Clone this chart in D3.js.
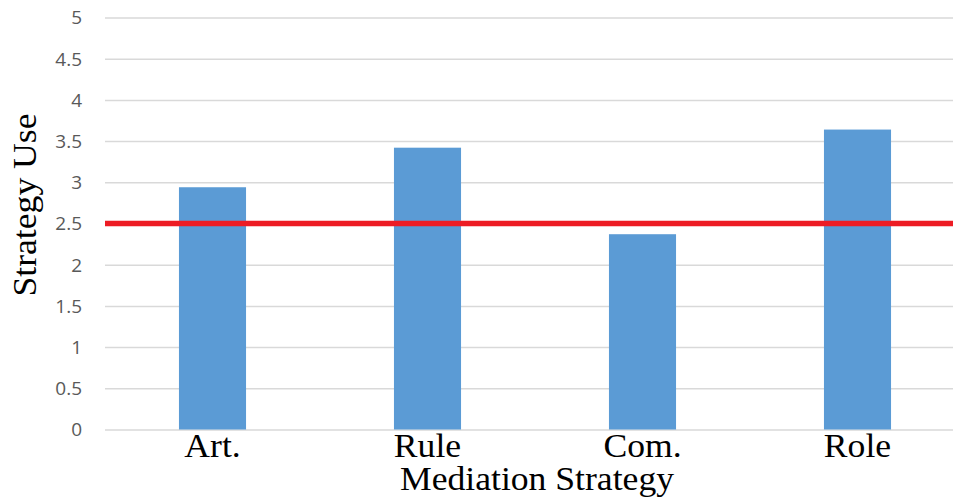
<!DOCTYPE html>
<html>
<head>
<meta charset="utf-8">
<script src="https://cdn.jsdelivr.net/npm/d3@7"></script>
<style>
  html, body { margin: 0; padding: 0; background: #fff; }
  svg { display: block; }
</style>
</head>
<body>
<svg id="chart" width="953" height="500"></svg>
<script>
const categories = ["Art.", "Rule", "Com.", "Role"];
const values = [2.94, 3.42, 2.37, 3.64];
const yTicks = [0, 0.5, 1, 1.5, 2, 2.5, 3, 3.5, 4, 4.5, 5];
const threshold = 2.5;
const xTitle = "Mediation Strategy";
const yTitle = "Strategy Use";

(function () {
const svg = d3.select("#chart");
const pLeft = 105, pRight = 965, pTop = 17.5, pBottom = 429.5;
const sx = 1.08;

const x = d3.scaleBand().domain(categories).range([pLeft, pRight])
  .paddingInner(0.688).paddingOuter(0.344);
const y = d3.scaleLinear().domain([0, 5]).range([pBottom, pTop]);

// gridlines + tick labels
const yAxis = d3.axisLeft(y).tickValues(yTicks)
  .tickSize(-(pRight - pLeft)).tickPadding(23)
  .tickFormat(d => String(d));
const gy = svg.append("g").attr("transform", `translate(${pLeft},0)`).call(yAxis);
gy.select(".domain").remove();
gy.selectAll(".tick line").attr("stroke", "#d9d9d9").attr("stroke-width", 1.5);
gy.selectAll(".tick text")
  .attr("fill", "#595959")
  .attr("font-family", "'Open Sans', 'Liberation Sans', sans-serif")
  .attr("font-size", 19)
  .attr("dy", "0.34em");

// bars
svg.append("g").selectAll("rect").data(values).join("rect")
  .attr("x", (d, i) => x(categories[i]))
  .attr("y", d => y(d))
  .attr("width", x.bandwidth())
  .attr("height", d => y(0) - y(d))
  .attr("fill", "#5b9bd5");

// threshold line
svg.append("line")
  .attr("x1", pLeft).attr("x2", pRight)
  .attr("y1", y(threshold)).attr("y2", y(threshold))
  .attr("stroke", "#ed1c24").attr("stroke-width", 5.5);

// category labels
svg.append("g").selectAll("text").data(categories).join("text")
  .attr("transform", d => `translate(${x(d) + x.bandwidth() / 2},457) scale(${sx},1)`)
  .attr("text-anchor", "middle")
  .attr("font-family", "'Liberation Serif', 'Times New Roman', serif")
  .attr("font-size", 33)
  .attr("fill", "#000")
  .text(d => d);

// x title
svg.append("text")
  .attr("transform", `translate(${(pLeft + pRight) / 2 + 2},490) scale(${sx},1)`)
  .attr("text-anchor", "middle")
  .attr("font-family", "'Liberation Serif', 'Times New Roman', serif")
  .attr("font-size", 33)
  .attr("fill", "#000")
  .text(xTitle);

// y title
svg.append("text")
  .attr("transform", `translate(36,205) rotate(-90) scale(${sx},1)`)
  .attr("text-anchor", "middle")
  .attr("font-family", "'Liberation Serif', 'Times New Roman', serif")
  .attr("font-size", 33)
  .attr("fill", "#000")
  .text(yTitle);
})();
</script>
</body>
</html>
